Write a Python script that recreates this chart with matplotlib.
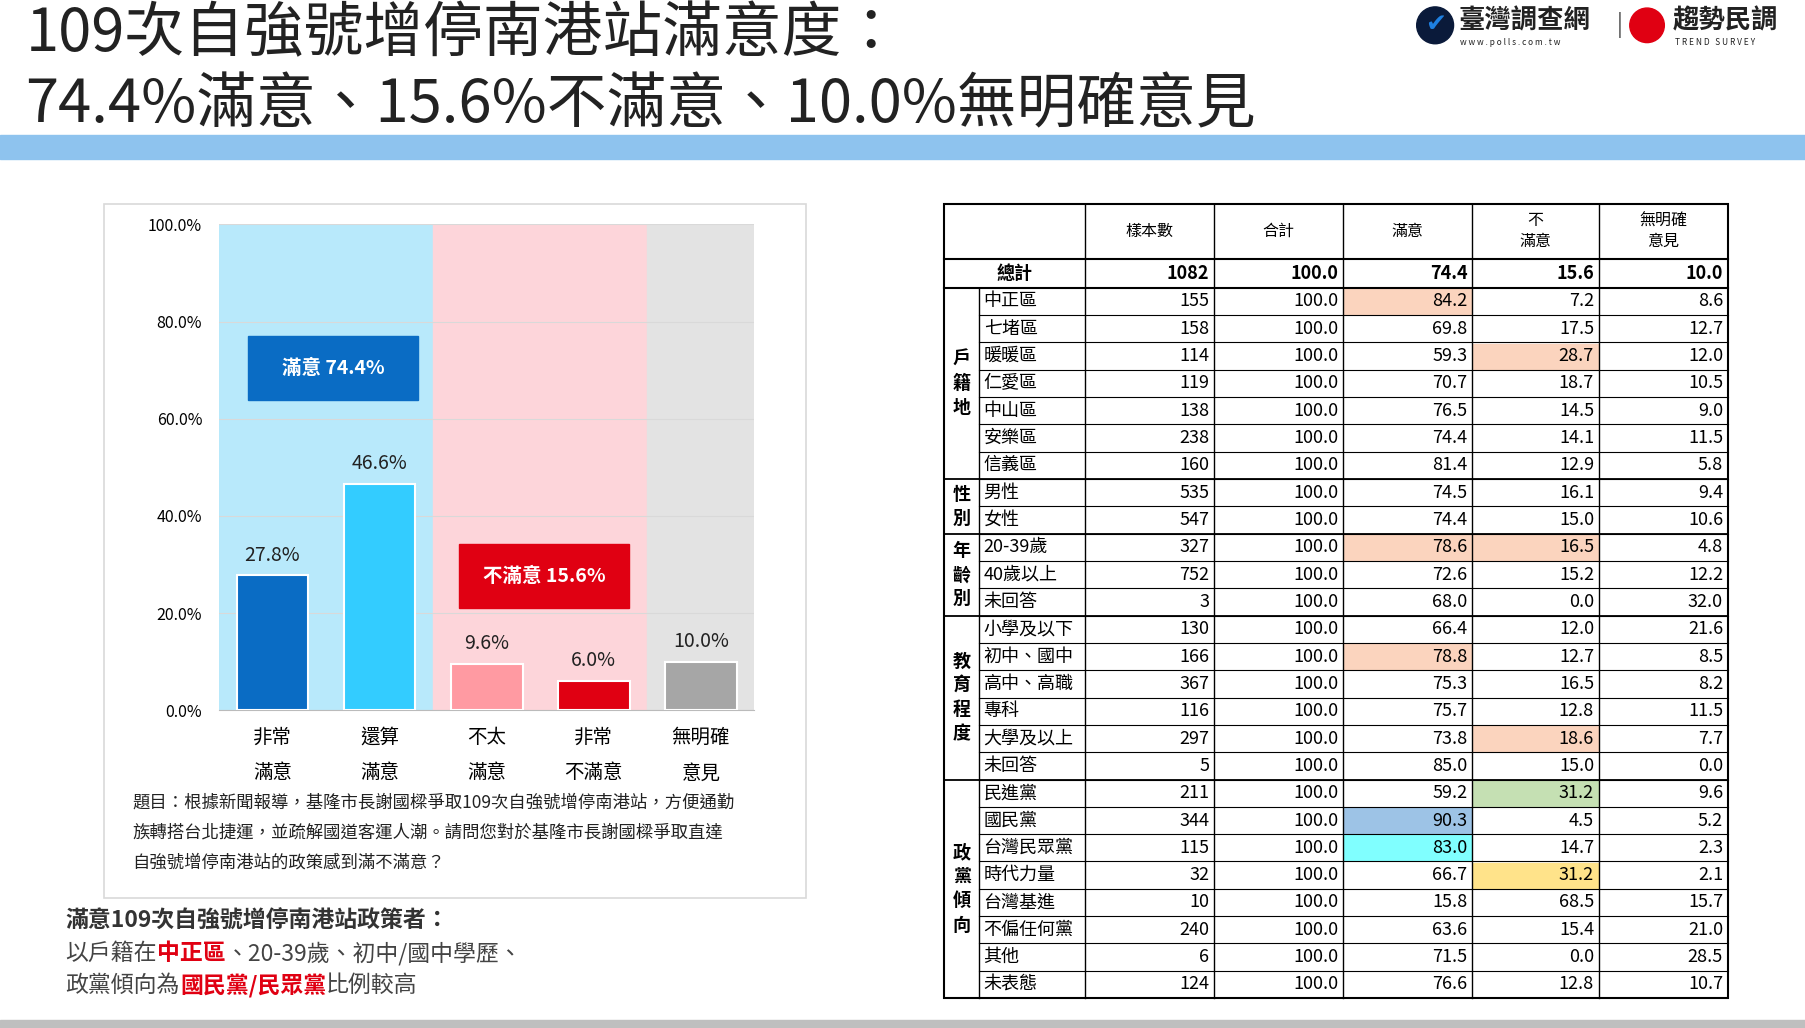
import matplotlib
matplotlib.use("Agg")
import matplotlib.pyplot as plt
from matplotlib.patches import Rectangle

plt.rcParams['font.family'] = ['Noto Sans CJK TC', 'DejaVu Sans']

cats = ["非常\n滿意", "還算\n滿意", "不太\n滿意", "非常\n不滿意", "無明確\n意見"]
vals = [27.8, 46.6, 9.6, 6.0, 10.0]
bar_colors = ["#0A6CC4", "#33CCFF", "#FF9AA2", "#E00012", "#A6A6A6"]

header = ["樣本數", "合計", "滿意", "不\n滿意", "無明確\n意見"]
total = ["1082", "100.0", "74.4", "15.6", "10.0"]
groups = [("戶籍地", 7), ("性別", 2), ("年齡別", 3), ("教育程度", 6), ("政黨傾向", 8)]
rows = ["中正區", "七堵區", "暖暖區", "仁愛區", "中山區", "安樂區", "信義區", "男性", "女性",
        "20-39歲", "40歲以上", "未回答", "小學及以下", "初中、國中", "高中、高職", "專科", "大學及以上", "未回答",
        "民進黨", "國民黨", "台灣民眾黨", "時代力量", "台灣基進", "不偏任何黨", "其他", "未表態"]
n = [155, 158, 114, 119, 138, 238, 160, 535, 547, 327, 752, 3, 130, 166, 367, 116, 297, 5,
     211, 344, 115, 32, 10, 240, 6, 124]
sat = [84.2, 69.8, 59.3, 70.7, 76.5, 74.4, 81.4, 74.5, 74.4, 78.6, 72.6, 68.0, 66.4, 78.8, 75.3, 75.7, 73.8, 85.0,
       59.2, 90.3, 83.0, 66.7, 15.8, 63.6, 71.5, 76.6]
dis = [7.2, 17.5, 28.7, 18.7, 14.5, 14.1, 12.9, 16.1, 15.0, 16.5, 15.2, 0.0, 12.0, 12.7, 16.5, 12.8, 18.6, 15.0,
       31.2, 4.5, 14.7, 31.2, 68.5, 15.4, 0.0, 12.8]
noop = [8.6, 12.7, 12.0, 10.5, 9.0, 11.5, 5.8, 9.4, 10.6, 4.8, 12.2, 32.0, 21.6, 8.5, 8.2, 11.5, 7.7, 0.0,
        9.6, 5.2, 2.3, 2.1, 15.7, 21.0, 28.5, 10.7]
# (row, value column: 3=滿意, 4=不滿意, colour)
highlights = [(0, 3, "#FBD4BE"), (2, 4, "#FBD4BE"), (9, 3, "#FBD4BE"), (9, 4, "#FBD4BE"), (13, 3, "#FBD4BE"),
              (16, 4, "#FBD4BE"), (18, 4, "#C5E0B3"), (19, 3, "#9DC3E6"), (20, 3, "#80FFFF"), (21, 4, "#FFE38A")]

W, H = 1568, 893
fig = plt.figure(figsize=(18.06, 10.28), dpi=100)
bg = fig.add_axes([0, 0, 1, 1])
bg.set_xlim(0, W); bg.set_ylim(H, 0); bg.axis("off")

# title
bg.text(22, 30, "109次自強號增停南港站滿意度：", fontsize=43, va="center", color="#222")
bg.text(22, 92, "74.4%滿意、15.6%不滿意、10.0%無明確意見", fontsize=43, va="center", color="#222")
bg.add_patch(Rectangle((0, 117), W, 21, color="#8EC3EE"))
bg.add_patch(Rectangle((0, 886), W, 7, color="#BFBFBF"))
# logos
bg.add_patch(plt.Circle((1246, 22), 16, color="#0A1A3A"))
bg.text(1246, 21, "✔", fontsize=18, va="center", ha="center", color="#1E7FE0", family="DejaVu Sans")
bg.text(1266, 18, "臺灣調查網", fontsize=19, va="center", fontweight="bold", color="#222")
bg.text(1268, 37, "w w w . p o l l s . c o m . t w", fontsize=6, va="center", color="#222")
bg.text(1404, 22, "|", fontsize=16, va="center", color="#444")
bg.add_patch(plt.Circle((1430, 22), 15, color="#E00012"))
bg.text(1452, 18, "趨勢民調", fontsize=19, va="center", fontweight="bold", color="#222")
bg.text(1454, 37, "T R E N D   S U R V E Y", fontsize=6, va="center", color="#222")

# chart frame
bg.add_patch(Rectangle((90, 177), 610, 603, fill=False, ec="#D9D9D9", lw=1.2))
bg.text(115, 697, "題目：根據新聞報導，基隆市長謝國樑爭取109次自強號增停南港站，方便通勤", fontsize=12.5, va="center", color="#222")
bg.text(115, 723, "族轉搭台北捷運，並疏解國道客運人潮。請問您對於基隆市長謝國樑爭取直達", fontsize=12.5, va="center", color="#222")
bg.text(115, 749, "自強號增停南港站的政策感到滿不滿意？", fontsize=12.5, va="center", color="#222")

ax = fig.add_axes([190 / W, 1 - 617 / H, 465 / W, 422 / H])
ax.axvspan(-0.5, 1.5, color="#B8E9FB", zorder=0)
ax.axvspan(1.5, 3.5, color="#FDD5DA", zorder=0)
ax.axvspan(3.5, 4.5, color="#E3E3E3", zorder=0)
x = range(len(vals))
ax.bar(x, vals, width=0.67, color=bar_colors, edgecolor="white", lw=1.5, zorder=3)
for i, v in enumerate(vals):
    ax.text(i, v + 2, f"{v:.1f}%", ha="center", va="bottom", fontsize=14, color="#222")
ax.set_xlim(-0.5, 4.5); ax.set_ylim(0, 100)
ax.set_yticks([0, 20, 40, 60, 80, 100])
ax.set_yticklabels([f"{t:.1f}%" for t in [0, 20, 40, 60, 80, 100]], fontsize=11.5)
ax.set_xticks(list(x))
ax.set_xticklabels(cats, fontsize=14, linespacing=1.9)
ax.tick_params(length=0, pad=12)
ax.yaxis.grid(True, color="#D9D9D9", zorder=1); ax.set_axisbelow(True)
for s in ["top", "right", "left"]:
    ax.spines[s].set_visible(False)
ax.spines["bottom"].set_color("#BBBBBB")
ax.add_patch(Rectangle((-0.23, 63.8), 1.59, 13.3, color="#0A6CC4", zorder=4))
ax.text(0.565, 70.4, "滿意 74.4%", ha="center", va="center", fontsize=14, color="white", fontweight="bold", zorder=5)
ax.add_patch(Rectangle((1.74, 21), 1.59, 13.2, color="#E00012", zorder=4))
ax.text(2.535, 27.6, "不滿意 15.6%", ha="center", va="center", fontsize=14, color="white", fontweight="bold", zorder=5)

# bottom notes with coloured runs
def runs(y, parts, x0=57, size=16.5):
    fig.canvas.draw()
    r = fig.canvas.get_renderer()
    xx = x0
    for txt, col, bold in parts:
        t = bg.text(xx, y, txt, fontsize=size, va="center", color=col, fontweight="bold" if bold else "normal")
        bb = t.get_window_extent(renderer=r)
        xx += bb.width / fig.dpi / 18.06 * W

runs(800, [("滿意109次自強號增停南港站政策者：", "#333", True)])
runs(828, [("以戶籍在", "#444", False), ("中正區", "#E00012", True), ("、20-39歲、初中/國中學歷、", "#444", False)])
runs(856, [("政黨傾向為", "#444", False), ("國民黨/民眾黨", "#E00012", True), ("比例較高", "#444", False)])

# table
cx = [820, 850, 942, 1054, 1166, 1278, 1388, 1500]
top, hdr, tot = 177, 225, 250
rh = (867 - tot) / len(rows)
fs = 13
for (r_, c_, col) in highlights:
    bg.add_patch(Rectangle((cx[c_ + 1] + 1, tot + r_ * rh + 1), cx[c_ + 2] - cx[c_ + 1] - 2, rh - 2, color=col, zorder=1))
bg.add_patch(Rectangle((cx[0], top), cx[-1] - cx[0], 867 - top, fill=False, ec="black", lw=1.5, zorder=3))
bg.plot([cx[0], cx[-1]], [hdr, hdr], color="black", lw=1.5)
bg.plot([cx[0], cx[-1]], [tot, tot], color="black", lw=1.5)
for xc in cx[2:-1]:
    bg.plot([xc, xc], [top, 867], color="black", lw=1)
bg.plot([cx[1], cx[1]], [tot, 867], color="black", lw=1)
for i, h in enumerate(header):
    bg.text((cx[i + 2] + cx[i + 3]) / 2, (top + hdr) / 2, h, ha="center", va="center", fontsize=11.5, linespacing=1.3)
bg.text((cx[0] + cx[2]) / 2, (hdr + tot) / 2, "總計", ha="center", va="center", fontsize=fs, fontweight="bold")
for i, v in enumerate(total):
    bg.text(cx[i + 3] - 4, (hdr + tot) / 2, v, ha="right", va="center", fontsize=fs, fontweight="bold")
start = 0
for g, cnt in groups:
    y0 = tot + start * rh
    y1 = y0 + cnt * rh
    bg.plot([cx[0], cx[-1]], [y1, y1], color="black", lw=1.3)
    bg.text((cx[0] + cx[1]) / 2, (y0 + y1) / 2, "\n".join(g), ha="center", va="center", fontsize=fs,
            fontweight="bold", linespacing=1.35)
    start += cnt
for i, name in enumerate(rows):
    yc = tot + (i + 0.5) * rh
    if i > 0:
        bg.plot([cx[1], cx[-1]], [tot + i * rh] * 2, color="black", lw=0.8)
    bg.text(cx[1] + 4, yc, name, ha="left", va="center", fontsize=fs)
    for j, v in enumerate([str(n[i]), "100.0", f"{sat[i]:.1f}", f"{dis[i]:.1f}", f"{noop[i]:.1f}"]):
        bg.text(cx[j + 3] - 4, yc, v, ha="right", va="center", fontsize=fs)

fig.savefig("out.png", dpi=100)
